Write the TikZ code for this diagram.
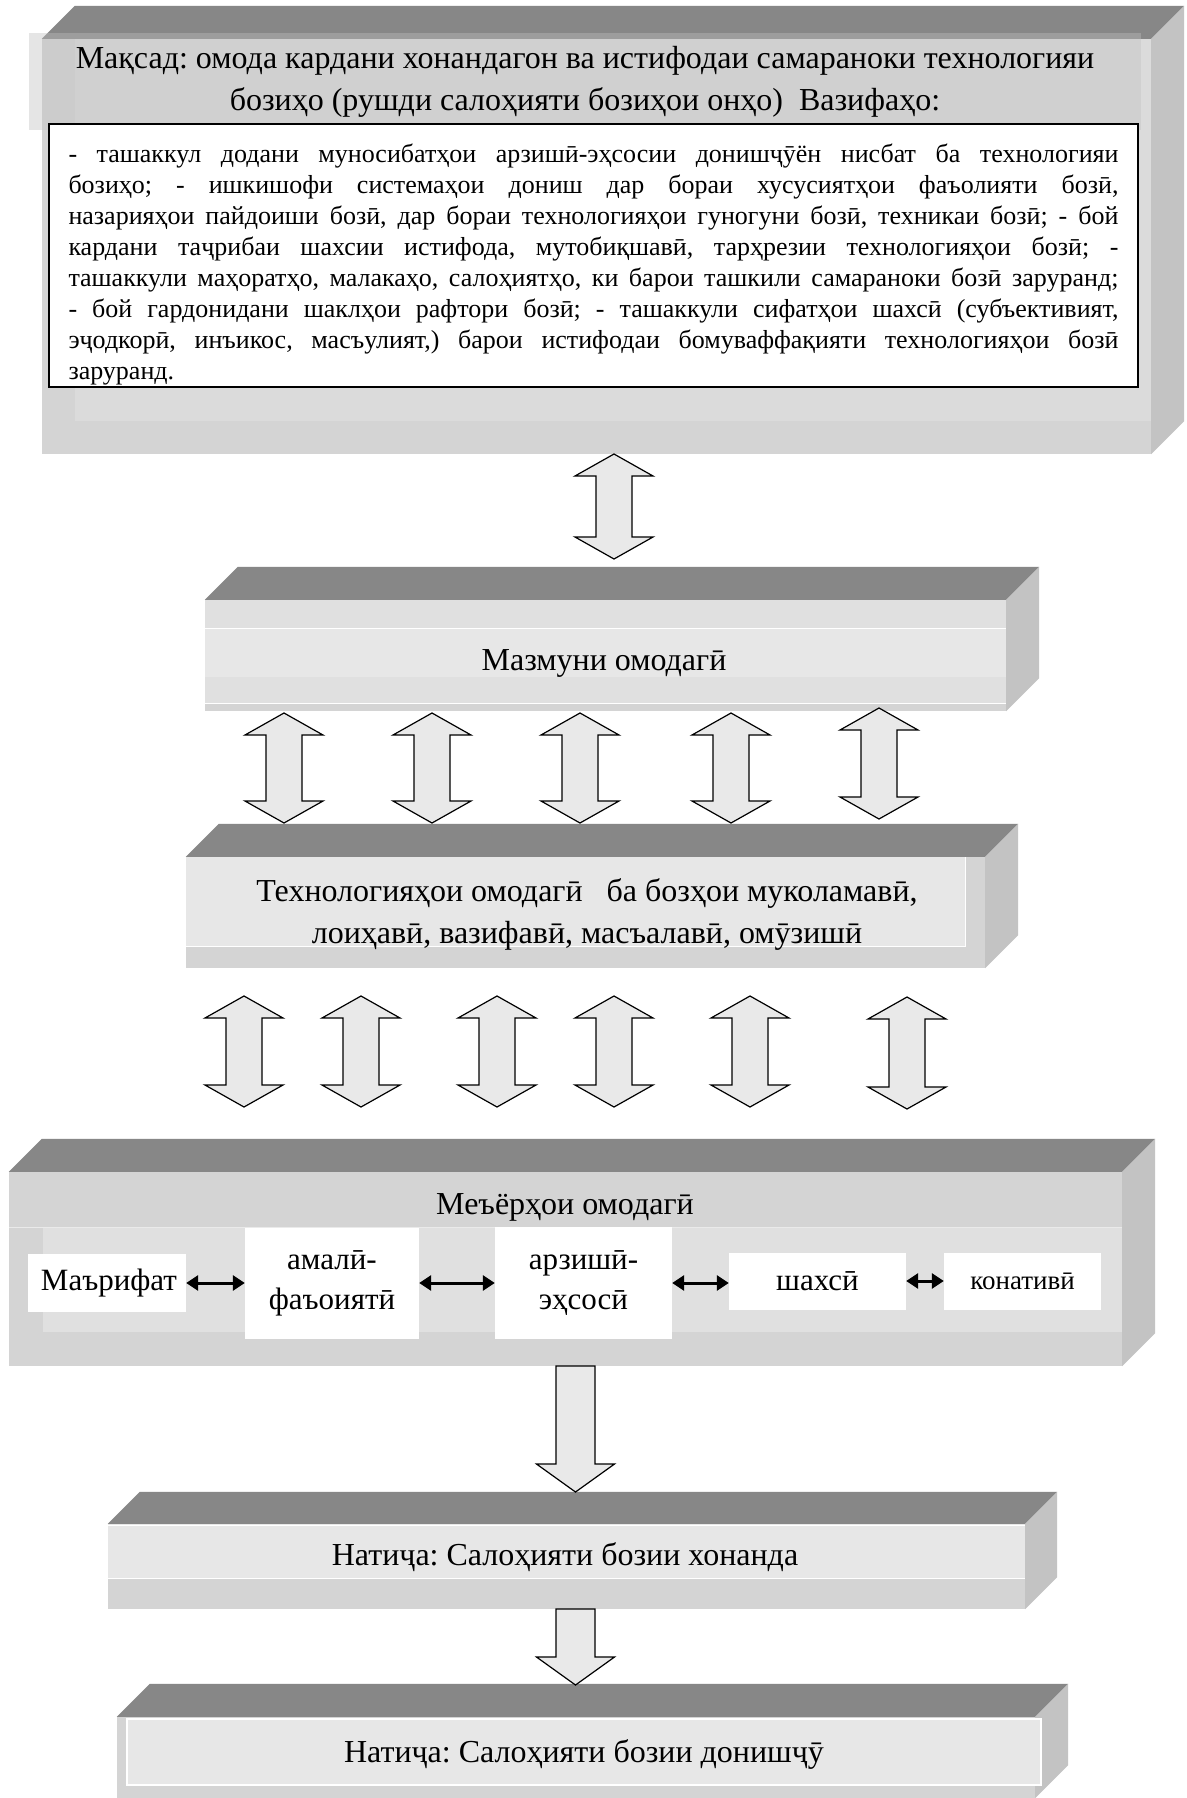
\documentclass[tikz,border=0pt]{standalone}
\usepackage{fontspec}
\setmainfont{Liberation Serif}
\usetikzlibrary{calc,arrows.meta}
\frenchspacing

\definecolor{topgray}{RGB}{135,135,135}
\definecolor{sidegray}{RGB}{195,195,195}
\definecolor{frontgray}{RGB}{212,212,212}
\definecolor{paleface}{RGB}{224,224,224}
\definecolor{bandgray}{RGB}{231,231,231}
\definecolor{overgray}{RGB}{192,192,192}
\definecolor{arrowgray}{RGB}{233,233,233}

% top and right faces round the front node #1, depth #2
\newcommand{\slabsides}[2]{%
  \fill[topgray] (#1.north west) -- ++(#2,-#2) -- ($(#1.north east)+(#2,-#2)$) -- (#1.north east) -- cycle;
  \fill[sidegray] (#1.north east) -- ++(#2,-#2) -- ($(#1.south east)+(#2,-#2)$) -- (#1.south east) -- cycle;}
% hollow double arrow from tip #1 (up) to tip #2 (down)
\newcommand{\dblarrow}[2]{%
  \draw[blockarrow] (#1) -- ++(-39,22) -- ++(21,0) -- ($(#2)+(-18,-22)$) -- ++(-21,0) -- (#2)
    -- ++(39,-22) -- ++(-21,0) -- ($(#1)+(18,22)$) -- ++(21,0) -- cycle;}
% hollow arrow from tail #1 down to tip #2
\newcommand{\onearrow}[2]{%
  \draw[blockarrow] ($(#1)+(-19.5,0)$) -- ($(#2)+(-19.5,-28)$) -- ++(-19.5,0) -- (#2)
    -- ++(39,-28) -- ++(-19.5,0) -- ($(#1)+(19.5,0)$) -- cycle;}

\begin{document}
\begin{tikzpicture}[x=1pt,y=-1pt,
    face/.style={fill=frontgray,inner sep=0pt},
    title/.style={font=\fontsize{32}{42}\selectfont,align=center,inner sep=0pt},
    item/.style={fill=white,inner sep=0pt,font=\fontsize{31}{40}\selectfont,align=center},
    blockarrow/.style={draw=black,fill=arrowgray,line width=1.2pt,line join=miter},
    link/.style={line width=3pt,{Triangle[length=12pt,width=15pt]}-{Triangle[length=12pt,width=15pt]}}]
\useasboundingbox (0,0) rectangle (1186,1798);
\fill[white] (0,0) rectangle (1186,1798);

% goal and tasks
\node[face,minimum width=1109pt,minimum height=415pt] (goalslab) at (596.5,246.5) {};
\slabsides{goalslab}{33}
\fill[paleface!60!frontgray] (75,39) rectangle (1151,421);
\node[title,minimum width=1112pt,minimum height=97pt,fill=overgray,fill opacity=0.4,text opacity=1] (goal) at (585,82)
  {Мақсад: омода кардани хонандагон ва истифодаи самараноки технологияи\\
   бозиҳо (рушди салоҳияти бозиҳои онҳо)\ \ Вазифаҳо:};
\node[draw,line width=2pt,fill=white,minimum width=1089pt,minimum height=263pt,text width=1050pt,
  inner sep=0pt,align=justify,font=\fontsize{26}{31}\selectfont] (tasks) at (593.5,255.5)
  {\leavevmode\rule{0pt}{36pt}%
   \makebox[1050pt][s]{- ташаккул додани муносибатҳои арзишӣ-эҳсосии донишҷӯён нисбат ба технологияи}\\
   \makebox[1050pt][s]{бозиҳо; - ишкишофи системаҳои дониш дар бораи хусусиятҳои фаъолияти бозӣ,}\\
   \makebox[1050pt][s]{назарияҳои пайдоиши бозӣ, дар бораи технологияҳои гуногуни бозӣ, техникаи бозӣ; - бой}\\
   \makebox[1050pt][s]{кардани таҷрибаи шахсии истифода, мутобиқшавӣ, тарҳрезии технологияҳои бозӣ; -}\\
   \makebox[1050pt][s]{ташаккули маҳоратҳо, малакаҳо, салоҳиятҳо, ки барои ташкили самараноки бозӣ заруранд;}\\
   \makebox[1050pt][s]{- бой гардонидани шаклҳои рафтори бозӣ; - ташаккули сифатҳои шахсӣ (субъективият,}\\
   \makebox[1050pt][s]{эҷодкорӣ, инъикос, масъулият,) барои истифодаи бомуваффақияти технологияҳои бозӣ}\\
   заруранд.};

% content
\node[face,minimum width=801pt,minimum height=111pt] (content) at (605.5,655.5) {};
\slabsides{content}{33}
\fill[paleface] (205,600) rectangle (1006,703);
\fill[bandgray] (205,628) rectangle (1006,677);
\draw[white,line width=1pt] (205,628) -- (1006,628) (205,703) -- (1006,703);
\node[title] at (604,663) {Мазмуни омодагӣ};

% technologies
\node[face,minimum width=799pt,minimum height=111pt] (tech) at (585.5,912.5) {};
\slabsides{tech}{33}
\fill[bandgray] (186,857) rectangle (965,946);
\draw[white,line width=1pt] (965,857) -- (965,946) -- (186,946);
\node[title] at (587,914) {Технологияҳои омодагӣ\ \ \ ба бозҳои муколамавӣ,\\ лоиҳавӣ, вазифавӣ, масъалавӣ, омӯзишӣ};

% criteria
\node[face,minimum width=1113pt,minimum height=194pt] (criteria) at (565.5,1269) {};
\slabsides{criteria}{33}
\fill[paleface] (43,1227) rectangle (1122,1332);
\draw[white!50!frontgray,line width=1pt] (9,1227) -- (1122,1227);
\node[title] at (565,1207) {Меъёрҳои омодагӣ};
\node[item,minimum width=158pt,minimum height=58pt,text width=140pt,align=right] (marif) at (107,1283) {Маърифат};
\node[item,minimum width=174pt,minimum height=111pt] (amali) at (332,1283) {амалӣ-\\фаъоиятӣ};
\node[item,minimum width=177pt,minimum height=112pt] (arzish) at (583.5,1283) {арзишӣ-\\эҳсосӣ};
\node[item,minimum width=177pt,minimum height=57pt] (shakhsi) at (817.5,1281) {шахсӣ};
\node[item,minimum width=157pt,minimum height=57pt,font=\fontsize{27}{32}\selectfont] (konat) at (1022.5,1281) {конативӣ};
\draw[link] (marif.east) -- (marif.east -| amali.west);
\draw[link] (amali.east) -- (amali.east -| arzish.west);
\draw[link] (arzish.east) -- (arzish.east -| shakhsi.west);
\draw[link] (shakhsi.east) -- (konat.west);

% results
\node[face,minimum width=917pt,minimum height=85pt] (result) at (566.5,1566.5) {};
\slabsides{result}{32}
\fill[bandgray] (108,1524) rectangle (1025,1578);
\draw[white,line width=1pt] (108,1525) -- (1025,1525) (108,1578) -- (1025,1578);
\node[title] at (565,1557) {Натиҷа: Салоҳияти бозии хонанда};

\node[face,minimum width=918pt,minimum height=81pt] (final) at (576,1757.5) {};
\slabsides{final}{33}
\fill[bandgray,draw=white,line width=1.5pt] (127,1719) rectangle (1041,1785);
\node[title] at (584,1754) {Натиҷа: Салоҳияти бозии донишҷӯ};

% block arrows
\coordinate (g1) at (614,454);
\coordinate (g2) at (614,559);
\dblarrow{g1}{g2}
\foreach \x/\a/\b [count=\i] in {284/713/823,432/713/823,580/713/823,731/713/823,879/708/819} {
  \coordinate (u\i) at (\x,\a);
  \coordinate (v\i) at (\x,\b);
  \dblarrow{u\i}{v\i}
}
\foreach \x/\a/\b [count=\i] in {244/996/1107,361/996/1107,497/996/1107,614/996/1107,750/996/1107,907/997/1109} {
  \coordinate (p\i) at (\x,\a);
  \coordinate (q\i) at (\x,\b);
  \dblarrow{p\i}{q\i}
}
\coordinate (s1) at (575.5,1366);
\coordinate (s2) at (575.5,1492);
\onearrow{s1}{s2}
\coordinate (s3) at (575.5,1609);
\coordinate (s4) at (575.5,1685);
\onearrow{s3}{s4}
\end{tikzpicture}
\end{document}
